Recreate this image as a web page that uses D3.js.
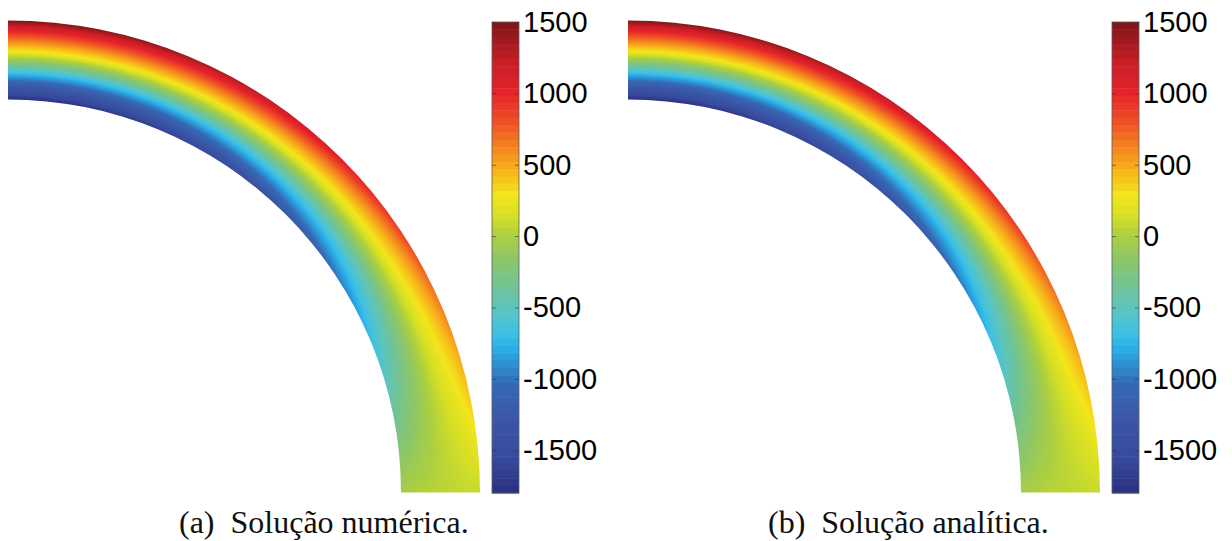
<!DOCTYPE html>
<html>
<head>
<meta charset="utf-8">
<script src="https://cdn.jsdelivr.net/npm/d3@7"></script>
<style>
  body { margin: 0; background: #fff; }
  svg { display: block; }
</style>
</head>
<body>
<div id="chart"></div>
<script>
// Angle along the ring (deg): 0 = bottom end, 90 = top end
const angles = [0, 10, 20, 30, 40, 50, 60, 70, 80, 90];
// Radial position across the wall: 0 = inner edge, 1 = outer edge
const radialPos = [0, 0.1, 0.2, 0.3, 0.4, 0.5, 0.6, 0.7, 0.8, 0.9, 1];

// Stress, one row per angle (inner -> outer)
const sigmaNumerica = [
  [-30, -10, 10, 30, 40, 50, 60, 70, 80, 90, 100],
  [-330, -260, -190, -120, -50, 30, 90, 150, 210, 270, 340],
  [-630, -500, -390, -260, -130, 0, 130, 220, 330, 440, 580],
  [-910, -730, -570, -400, -210, -20, 160, 300, 440, 610, 800],
  [-1160, -940, -740, -520, -280, -40, 180, 360, 540, 750, 1000],
  [-1370, -1110, -880, -620, -340, -60, 210, 410, 630, 880, 1170],
  [-1550, -1260, -990, -710, -390, -70, 220, 460, 700, 980, 1310],
  [-1680, -1360, -1080, -770, -430, -80, 240, 490, 760, 1060, 1420],
  [-1750, -1430, -1130, -810, -450, -90, 250, 510, 790, 1100, 1480],
  [-1780, -1450, -1150, -820, -460, -90, 250, 520, 800, 1120, 1500]
];
// the analytic field is indistinguishable from the numeric one at this resolution
const sigmaAnalitica = sigmaNumerica;

// Colorbar
const cbarDomain = [-1800, 1500];
const cbarTicks = [-1500, -1000, -500, 0, 500, 1000, 1500];
const cmapValues = [-1800, -1560, -1280, -1035, -900, -790, -690, -510, -375, -170, 0, 145, 285, 460, 600, 810, 1015, 1220, 1500];
const cmapColors = ["#2b2f80", "#374a9c", "#3a56a6", "#3569b5", "#2e8fd0", "#2aaee8", "#3cc0e6", "#5cc5c0", "#6dc39b",
                    "#8cc66a", "#abcf40", "#d5df25", "#f3e51b", "#f8b31a", "#f58a1f", "#ee4d25", "#e5222a", "#c81e24", "#7f1518"];

const captions = ["(a)  Solução numérica.", "(b)  Solução analítica."];

const W = 1232, H = 541;
const panels = [
  {ox: 0, data: sigmaNumerica, capX: 179},
  {ox: 620, data: sigmaAnalitica, capX: 768}
];
const cx0 = 8, cy = 492.5, rIn = 393, rOut = 472;

const color = d3.scaleLinear()
    .domain(cmapValues)
    .range(cmapColors)
    .clamp(true);

// lookup table so the pixel loop stays quick
const lutN = 1024;
const lutVal = d3.scaleLinear().domain([0, lutN - 1]).range(cbarDomain);
const lut = d3.range(lutN).map(i => d3.rgb(color(lutVal(i))));
const lutIdx = d3.scaleLinear().domain(cbarDomain).range([0, lutN - 1]).clamp(true);

const tScale = d3.scaleLinear().domain([rIn, rOut]).range([0, 1]).clamp(true);

const svg = d3.select("#chart").append("svg")
    .attr("width", W)
    .attr("height", H);

// Paint both fields on one canvas
const canvas = document.createElement("canvas");
canvas.width = W; canvas.height = H;
const ctx = canvas.getContext("2d");
const img = ctx.createImageData(W, H);

panels.forEach(p => {
  const rowScales = p.data.map(row => d3.scaleLinear().domain(radialPos).range(row));
  const cx = cx0 + p.ox;
  for (let y = Math.floor(cy - rOut - 2); y <= Math.ceil(cy) + 1; y++) {
    for (let x = Math.floor(cx) - 1; x <= Math.ceil(cx + rOut) + 2; x++) {
      const dx = x + 0.5 - cx, dy = cy - (y + 0.5);
      const r = Math.hypot(dx, dy);
      if (r < rIn - 2 || r > rOut + 2) continue;
      let a = Math.atan2(dy, dx) * 180 / Math.PI;
      a = Math.max(0, Math.min(90, a));
      const t = tScale(r);
      const col = rowScales.map(s => s(t));
      const v = d3.scaleLinear().domain(angles).range(col)(a);
      const c = lut[Math.round(lutIdx(v))];
      const k = (y * W + x) * 4;
      img.data[k] = c.r; img.data[k + 1] = c.g; img.data[k + 2] = c.b; img.data[k + 3] = 255;
    }
  }
});
ctx.putImageData(img, 0, 0);
const href = canvas.toDataURL();

const arc = d3.arc()
    .innerRadius(rIn)
    .outerRadius(rOut)
    .startAngle(0)
    .endAngle(Math.PI / 2);

const yBar = d3.scaleLinear().domain(cbarDomain).range([493, 22]);
const nBands = 64;
const bandH = (yBar.range()[0] - yBar.range()[1]) / nBands;

panels.forEach((p, i) => {
  const cx = cx0 + p.ox;

  svg.append("clipPath")
      .attr("id", "ring" + i)
    .append("path")
      .attr("transform", `translate(${cx},${cy})`)
      .attr("d", arc());

  svg.append("image")
      .attr("href", href)
      .attr("width", W)
      .attr("height", H)
      .attr("clip-path", `url(#ring${i})`);

  // Colorbar
  const bx = 492 + p.ox, bw = 27;
  const g = svg.append("g");
  g.selectAll("rect.band")
    .data(d3.range(nBands))
    .join("rect")
      .attr("class", "band")
      .attr("x", bx)
      .attr("y", k => yBar.range()[1] + k * bandH)
      .attr("width", bw)
      .attr("height", bandH + 0.5)
      .attr("fill", k => color(yBar.invert(yBar.range()[1] + (k + 0.5) * bandH)));
  g.append("rect")
      .attr("x", bx).attr("y", 22)
      .attr("width", bw).attr("height", 471)
      .attr("fill", "none")
      .attr("stroke", "#5a5a6a")
      .attr("stroke-width", 0.8);

  const axR = g.append("g")
      .attr("transform", `translate(${bx + bw},0)`)
      .call(d3.axisRight(yBar).tickValues(cbarTicks).tickSizeInner(-4).tickSizeOuter(0)
        .tickPadding(4).tickFormat(d => String(d)));
  const axL = g.append("g")
      .attr("transform", `translate(${bx},0)`)
      .call(d3.axisLeft(yBar).tickValues(cbarTicks).tickSizeInner(-4).tickSizeOuter(0).tickFormat(""));
  [axR, axL].forEach(a => {
    a.select(".domain").remove();
    a.selectAll(".tick line").attr("stroke", "#333").attr("stroke-opacity", 0.6);
  });
  axR.selectAll(".tick text")
      .attr("fill", "#000")
      .style("font-family", "'Liberation Sans', Arial, sans-serif")
      .style("font-size", "29px");

  svg.append("text")
      .attr("x", p.capX)
      .attr("y", 533)
      .style("white-space", "pre")
      .style("font-family", "'Liberation Serif', 'Times New Roman', serif")
      .style("font-size", "32px")
      .attr("fill", "#111")
      .text(captions[i]);
});
</script>
</body>
</html>
